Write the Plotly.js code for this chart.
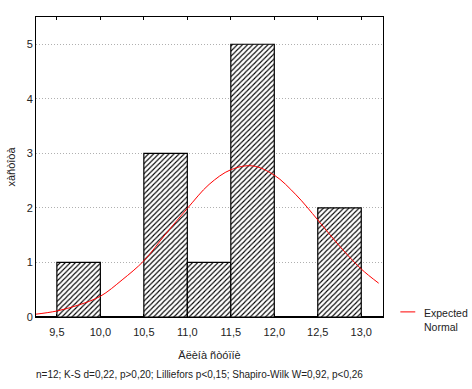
<!DOCTYPE html>
<html><head><meta charset="utf-8">
<script src="https://cdn.plot.ly/plotly-3.0.1.min.js"></script>
<style>body{margin:0;background:#fff}#c{width:472px;height:389px}</style>
</head><body><div id="c"></div>
<script>
// Histogram bins (centres), counts
var binCenters = [9.75, 10.25, 10.75, 11.25, 11.75, 12.25, 12.75];
var counts = [1, 0, 3, 1, 5, 0, 2];
// Expected normal curve
var curveX = [9.25, 9.5, 9.75, 10.0, 10.25, 10.5, 10.75, 11.0, 11.25, 11.5, 11.75, 12.0, 12.25, 12.5, 12.75, 13.0, 13.2];
var curveY = [0.05, 0.11, 0.22, 0.38, 0.68, 1.03, 1.52, 1.99, 2.43, 2.70, 2.77, 2.60, 2.24, 1.78, 1.30, 0.88, 0.62];
var tickVals = [9.5, 10.0, 10.5, 11.0, 11.5, 12.0, 12.5, 13.0];
var tickText = ["9,5", "10,0", "10,5", "11,0", "11,5", "12,0", "12,5", "13,0"];
var yTicks = [0, 1, 2, 3, 4, 5];
var xTitle = "Äëèíà ñòóïíè";
var yTitle = "xàñòîòà";
var note = "n=12; K-S d=0,22, p>0,20; Lilliefors p<0,15; Shapiro-Wilk W=0,92, p<0,26";
var legendText = "Expected<br>Normal";

var F = "Liberation Sans, Arial, sans-serif";
var traces = [
  {type: 'bar', x: binCenters, y: counts, width: 0.5, showlegend: false,
   marker: {color: '#fff', line: {color: '#000', width: 1.2},
            pattern: {shape: '/', fgcolor: '#000', bgcolor: '#fff', size: 3.6, solidity: 0.3}},
   hoverinfo: 'skip'},
  {type: 'scatter', mode: 'lines', x: curveX, y: curveY, showlegend: false,
   line: {color: '#ff0000', width: 1, shape: 'spline'}}
];
var layout = {
  width: 472, height: 389,
  margin: {l: 36, r: 89, t: 17, b: 72},
  paper_bgcolor: '#fff', plot_bgcolor: '#fff',
  font: {family: F, size: 11, color: '#222'},
  bargap: 0,
  showlegend: false,
  xaxis: {range: [9.26, 13.25], tickvals: tickVals, ticktext: tickText,
          showgrid: false, zeroline: false, showline: true, linecolor: '#000', linewidth: 1,
          mirror: 'ticks', ticks: 'inside', ticklen: 3, tickcolor: '#000', ticklabelstandoff: 5,
          tickfont: {family: F, size: 11, color: '#222'},
          title: {text: xTitle, font: {family: F, size: 11, color: '#222'}, standoff: 14}},
  yaxis: {range: [0, 5.5], tickvals: yTicks, ticktext: yTicks.map(String),
          showgrid: true, gridcolor: '#b0b0b0', griddash: '1px,2px', gridwidth: 1,
          zeroline: true, zerolinecolor: '#000', zerolinewidth: 2,
          showline: true, linecolor: '#000', linewidth: 1, mirror: true,
          ticks: '', tickfont: {family: F, size: 11, color: '#222'},
          title: {text: yTitle, font: {family: F, size: 11, color: '#222'}, standoff: 8}},
  shapes: [{type: 'line', xref: 'paper', yref: 'paper', x0: 1.05, x1: 1.093, y0: 0.017, y1: 0.017,
            line: {color: '#ff0000', width: 1}}],
  annotations: [
    {text: note, xref: 'paper', yref: 'paper', x: 0.47, y: -0.19,
     xanchor: 'center', yanchor: 'middle', showarrow: false,
     font: {family: F, size: 10, color: '#222'}},
    {text: legendText, xref: 'paper', yref: 'paper', x: 1.112, y: 0.017,
     xanchor: 'left', yanchor: 'top', yshift: 7, align: 'left', showarrow: false,
     font: {family: F, size: 10.5, color: '#222'}}
  ]
};
Plotly.newPlot('c', traces, layout, {displayModeBar: false, staticPlot: true});
</script></body></html>
